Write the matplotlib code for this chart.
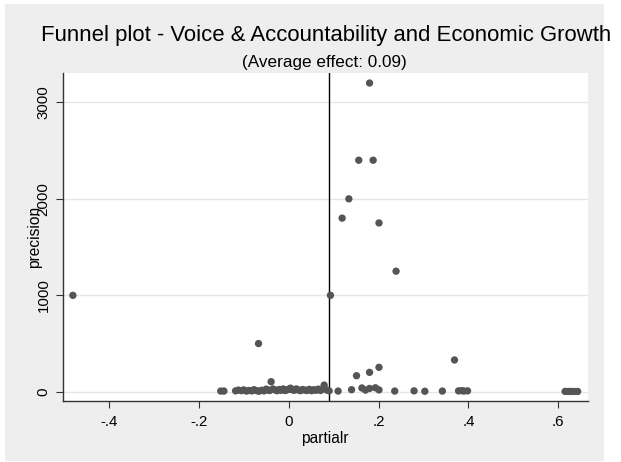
import matplotlib.pyplot as plt
from matplotlib.patches import Rectangle

plt.rcParams['font.family'] = ['Liberation Sans', 'DejaVu Sans']

# partial correlations (x) and precision (y)
partialr = [
    -0.48, -0.067, -0.039, 0.079, 0.093,
    0.119, 0.134, 0.156, 0.180, 0.188, 0.201, 0.239,
    0.151, 0.180, 0.201, 0.369,
    -0.151, -0.144, -0.118, -0.112, -0.105, -0.100, -0.094, -0.088,
    -0.082, -0.077, -0.071, -0.066, -0.060, -0.055, -0.050, -0.046,
    -0.042, -0.035, -0.030, -0.026, -0.021, -0.017, -0.012, -0.008,
    -0.004, 0.000, 0.004, 0.008, 0.012, 0.017, 0.021, 0.026, 0.031,
    0.036, 0.041, 0.046, 0.051, 0.056, 0.061, 0.066, 0.071, 0.084,
    0.090, 0.110, 0.140, 0.163, 0.171, 0.180, 0.193, 0.201, 0.236,
    0.279, 0.303, 0.342, 0.378, 0.385, 0.390, 0.398,
    0.615, 0.622, 0.628, 0.635, 0.643,
]
precision = [
    1000, 500, 105, 70, 1000,
    1800, 2000, 2400, 3200, 2400, 1750, 1250,
    167, 202, 254, 330,
    8, 8, 10, 18, 12, 20, 8, 14,
    10, 22, 12, 6, 16, 10, 28, 18,
    14, 30, 20, 12, 24, 16, 30, 14,
    20, 26, 38, 22, 16, 30, 20, 12, 24,
    18, 14, 26, 12, 22, 16, 28, 14, 20,
    10, 8, 22, 40, 18, 35, 42, 20, 8,
    10, 6, 8, 10, 12, 8, 10,
    4, 4, 4, 4, 4,
]
avg_effect = 0.09

fig = plt.figure(figsize=(6.21, 4.62), dpi=100, facecolor='white')
fig.patches.append(Rectangle((5 / 621, 1 - 461 / 462), 599 / 621, 457 / 462,
                             transform=fig.transFigure, facecolor='#eeeeee',
                             edgecolor='none', zorder=-10))

ax = fig.add_axes([63 / 621, 1 - 401 / 462, 525 / 621, 328.3 / 462])
ax.set_facecolor('white')

for yv in [0, 1000, 2000, 3000]:
    ax.axhline(yv, color='#e6e6e6', lw=1, zorder=1)
ax.axvline(avg_effect, color='black', lw=1, zorder=2)

ax.scatter(partialr, precision, s=28, color='#555555', edgecolors='none', zorder=3)

ax.set_xlim(-0.502, 0.666)
ax.set_ylim(-95, 3307)
ax.set_xticks([-0.4, -0.2, 0, 0.2, 0.4, 0.6])
ax.set_xticklabels(['-.4', '-.2', '0', '.2', '.4', '.6'])
ax.set_yticks([0, 1000, 2000, 3000])
ax.set_yticklabels(['0', '1000', '2000', '3000'], rotation=90, va='center')

for side in ['top', 'right']:
    ax.spines[side].set_visible(False)
for side in ['left', 'bottom']:
    ax.spines[side].set_color('#333333')
    ax.spines[side].set_linewidth(1)
ax.tick_params(axis='both', length=5, width=0.8, color='#333333', labelsize=10.8,
               labelcolor='black')
ax.tick_params(axis='x', pad=5)
ax.tick_params(axis='y', pad=4)

fig.text(326 / 621, 1 - 40.7 / 462, 'Funnel plot - Voice & Accountability and Economic Growth',
         ha='center', va='baseline', fontsize=15.9)
fig.text(324.8 / 621, 1 - 66.7 / 462, '(Average effect: 0.09)', ha='center', va='baseline',
         fontsize=12.3)
fig.text(325 / 621, 1 - 439 / 462, 'partialr', ha='center', va='center', fontsize=11.2)
fig.text(35 / 621, 1 - 237 / 462, 'precision', ha='center', va='center', rotation=90,
         fontsize=11.2)

fig.savefig('out.png', dpi=100, facecolor='white')
